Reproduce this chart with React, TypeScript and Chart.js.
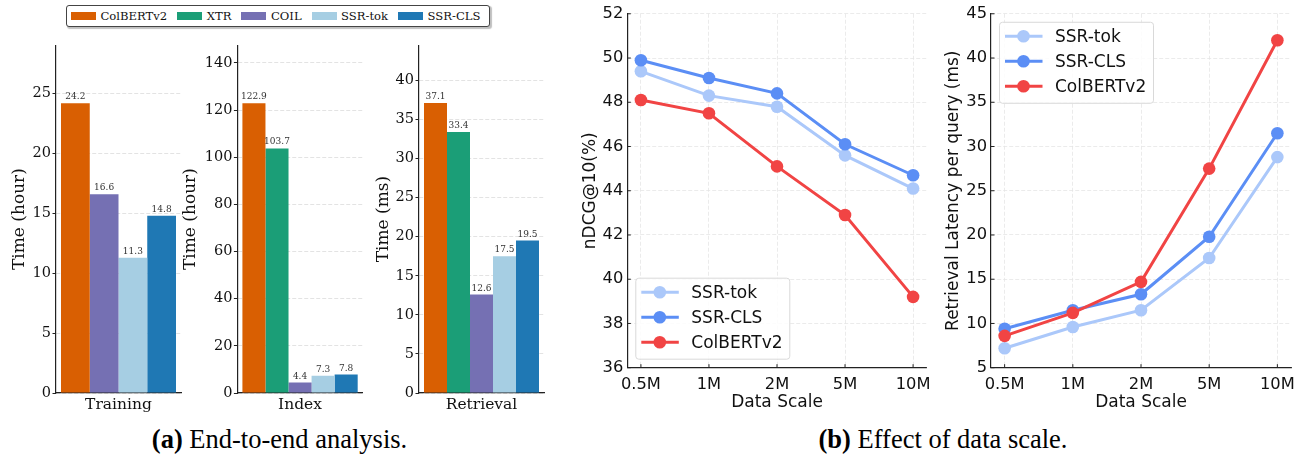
import React, { useEffect, useRef } from "react";
import { Chart, registerables } from "chart.js";

Chart.register(...registerables);

// ---------- data: (a) end-to-end analysis ----------
const barCategories = ["Training", "Index", "Retrieval"];
const barMethods = ["ColBERTv2", "XTR", "COIL", "SSR-tok", "SSR-CLS"];
const colbertTimes: (number | null)[] = [24.2, 122.9, 37.1];
const xtrTimes: (number | null)[] = [null, 103.7, 33.4];
const coilTimes: (number | null)[] = [16.6, 4.4, 12.6];
const ssrTokTimes: (number | null)[] = [11.3, 7.3, 17.5];
const ssrClsTimes: (number | null)[] = [14.8, 7.8, 19.5];
const barYTitles = ["Time (hour)", "Time (hour)", "Time (ms)"];
const trainingTicks = [0, 5, 10, 15, 20, 25];
const indexTicks = [0, 20, 40, 60, 80, 100, 120, 140];
const retrievalTicks = [0, 5, 10, 15, 20, 25, 30, 35, 40];
const barYMax = [29.04, 147.5, 44.5];

// ---------- data: (b) effect of data scale ----------
const scaleLabels = ["0.5M", "1M", "2M", "5M", "10M"];
const lineMethods = ["SSR-tok", "SSR-CLS", "ColBERTv2"];
const ndcgTok = [49.4, 48.3, 47.8, 45.6, 44.1];
const ndcgCls = [49.9, 49.1, 48.4, 46.1, 44.7];
const ndcgColbert = [48.1, 47.5, 45.1, 42.9, 39.2];
const latTok = [7.2, 9.6, 11.5, 17.4, 28.8];
const latCls = [9.4, 11.5, 13.3, 19.8, 31.5];
const latColbert = [8.6, 11.2, 14.7, 27.5, 42.0];
const ndcgTicks = [36, 38, 40, 42, 44, 46, 48, 50, 52];
const latTicks = [5, 10, 15, 20, 25, 30, 35, 40, 45];

// ---------- styles ----------
const barColors = ["#d95f02", "#1b9e77", "#7570b3", "#a6cee3", "#1f78b4"];
const lineColors = ["#abc8fa", "#5b8ef5", "#f14444"];
const SERIF = '"DejaVu Serif"';
const SANS = '"DejaVu Sans"';
const INK = "#111";
const SPINE = "#222";

type Area = { l: number; r: number; t: number; b: number };
function geom(area: Area, cl: number, ct: number, cr: number, cb: number, xH: number) {
  return {
    box: { left: cl, top: ct, width: cr - cl, height: cb - ct },
    yW: area.l - cl,
    xH,
    padding: { left: 0, top: area.t - ct, right: cr - area.r, bottom: cb - area.b - xH },
  };
}

const valueLabels = {
  id: "valueLabels",
  afterDatasetsDraw(chart: any) {
    const ctx = chart.ctx;
    ctx.save();
    ctx.font = `9px ${SERIF}`;
    ctx.fillStyle = "#333";
    ctx.textAlign = "center";
    ctx.textBaseline = "alphabetic";
    chart.data.datasets.forEach((ds: any, di: number) => {
      const meta = chart.getDatasetMeta(di);
      meta.data.forEach((el: any, j: number) => {
        const v = ds.data[j];
        if (v == null) return;
        ctx.fillText(Number(v).toFixed(1), el.x, el.y - 4);
      });
    });
    ctx.restore();
  },
};

const inTicks = {
  id: "inTicks",
  beforeDatasetsDraw(chart: any) {
    const { ctx, chartArea: a, scales } = chart;
    ctx.save();
    ctx.strokeStyle = SPINE;
    ctx.lineWidth = 1;
    ctx.beginPath();
    scales.x.ticks.forEach((t: any) => {
      const x = scales.x.getPixelForValue(t.value);
      ctx.moveTo(x, a.bottom);
      ctx.lineTo(x, a.bottom - 3.5);
    });
    scales.y.ticks.forEach((t: any) => {
      const y = scales.y.getPixelForValue(t.value);
      ctx.moveTo(a.left, y);
      ctx.lineTo(a.left + 3.5, y);
    });
    ctx.stroke();
    ctx.restore();
  },
};

function lineLegend(corner: "tl" | "bl") {
  return {
    id: "lineLegend",
    afterDraw(chart: any) {
      const { ctx, chartArea: a } = chart;
      const w = 154;
      const h = 81;
      const left = a.left + 8.5;
      const top = corner === "tl" ? a.top + 8.5 : a.bottom - 8.5 - h;
      ctx.save();
      ctx.beginPath();
      (ctx as any).roundRect(left, top, w, h, 3);
      ctx.fillStyle = "rgba(255,255,255,0.85)";
      ctx.fill();
      ctx.strokeStyle = "#d9d9d9";
      ctx.lineWidth = 1;
      ctx.stroke();
      ctx.font = `17px ${SANS}`;
      ctx.textBaseline = "middle";
      ctx.textAlign = "left";
      chart.data.datasets.forEach((ds: any, k: number) => {
        const cy = top + 14 + 25 * k;
        ctx.strokeStyle = ds.borderColor;
        ctx.lineWidth = 3;
        ctx.beginPath();
        ctx.moveTo(left + 5.5, cy);
        ctx.lineTo(left + 43, cy);
        ctx.stroke();
        ctx.fillStyle = ds.borderColor;
        ctx.beginPath();
        ctx.arc(left + 24, cy, 6.3, 0, Math.PI * 2);
        ctx.fill();
        ctx.fillStyle = INK;
        ctx.fillText(ds.label, left + 55.5, cy + 1);
      });
      ctx.restore();
    },
  };
}

function barConfig(i: number, g: ReturnType<typeof geom>, titlePad: number) {
  const series = [colbertTimes, xtrTimes, coilTimes, ssrTokTimes, ssrClsTimes];
  const tickSets = [trainingTicks, indexTicks, retrievalTicks];
  const datasets = barMethods
    .map((m, k) => ({
      label: m,
      data: [series[k][i]],
      backgroundColor: barColors[k],
      borderWidth: 0,
      barPercentage: 1,
      categoryPercentage: 0.92,
    }))
    .filter((d) => d.data[0] != null);
  return {
    type: "bar",
    data: { labels: [barCategories[i]], datasets },
    options: {
      responsive: false,
      animation: false,
      events: [],
      layout: { padding: g.padding },
      plugins: { legend: { display: false }, tooltip: { enabled: false } },
      scales: {
        x: {
          type: "category",
          grid: { display: false, drawTicks: false },
          border: { display: true, color: SPINE, width: 1.2 },
          ticks: { color: INK, font: { family: SERIF, size: 15.5 }, padding: 3 },
          afterFit: (s: any) => {
            s.height = g.xH;
          },
        },
        y: {
          type: "linear",
          min: 0,
          max: barYMax[i],
          afterBuildTicks: (s: any) => {
            s.ticks = tickSets[i].map((v) => ({ value: v }));
          },
          grid: {
            color: "#dcdcdc",
            lineWidth: 0.8,
            drawTicks: true,
            tickLength: 3.5,
            tickColor: SPINE,
            tickWidth: 1,
          },
          border: { display: true, color: SPINE, width: 1.2, dash: [4, 2] },
          ticks: { color: INK, font: { family: SERIF, size: 14.5 }, padding: 1.5 },
          title: {
            display: true,
            text: barYTitles[i],
            color: INK,
            font: { family: SERIF, size: 17 },
            padding: { top: titlePad, bottom: 0 },
          },
          afterFit: (s: any) => {
            s.width = g.yW;
          },
        },
      },
    },
    plugins: [valueLabels],
  };
}

function lineConfig(
  series: number[][],
  ticks: number[],
  yTitle: string,
  g: ReturnType<typeof geom>,
  titlePad: number,
  corner: "tl" | "bl"
) {
  const orders = [2, 1, 0];
  const datasets = lineMethods.map((m, k) => ({
    label: m,
    data: series[k].map((v, j) => ({ x: j, y: v })),
    borderColor: lineColors[k],
    backgroundColor: lineColors[k],
    pointBackgroundColor: lineColors[k],
    pointBorderColor: lineColors[k],
    pointBorderWidth: 0,
    pointRadius: 6.3,
    pointHoverRadius: 6.3,
    borderWidth: 3,
    tension: 0,
    order: orders[k],
    clip: false,
  }));
  return {
    type: "line",
    data: { datasets },
    options: {
      responsive: false,
      animation: false,
      events: [],
      layout: { padding: g.padding },
      plugins: { legend: { display: false }, tooltip: { enabled: false } },
      scales: {
        x: {
          type: "linear",
          min: -0.2,
          max: 4.2,
          afterBuildTicks: (s: any) => {
            s.ticks = scaleLabels.map((_, j) => ({ value: j }));
          },
          grid: { color: "#e6e6e6", lineWidth: 0.8, drawTicks: false },
          border: { display: true, color: SPINE, width: 1.2, dash: [4, 2] },
          ticks: {
            color: INK,
            font: { family: SANS, size: 16.3 },
            padding: 7,
            autoSkip: false,
            maxRotation: 0,
            callback: (v: any) => scaleLabels[Math.round(Number(v))],
          },
          title: {
            display: true,
            text: "Data Scale",
            color: INK,
            font: { family: SANS, size: 17 },
            padding: { top: 0, bottom: 4.8 },
          },
          afterFit: (s: any) => {
            s.height = g.xH;
          },
        },
        y: {
          type: "linear",
          min: ticks[0],
          max: ticks[ticks.length - 1],
          afterBuildTicks: (s: any) => {
            s.ticks = ticks.map((v) => ({ value: v }));
          },
          grid: { color: "#e6e6e6", lineWidth: 0.8, drawTicks: false },
          border: { display: true, color: SPINE, width: 1.2, dash: [4, 2] },
          ticks: { color: INK, font: { family: SANS, size: 16.3 }, padding: 4 },
          title: {
            display: true,
            text: yTitle,
            color: INK,
            font: { family: SANS, size: 17 },
            padding: { top: titlePad, bottom: 0 },
          },
          afterFit: (s: any) => {
            s.width = g.yW;
          },
        },
      },
    },
    plugins: [inTicks, lineLegend(corner)],
  };
}

function ChartBox({ box, make }: { box: { left: number; top: number; width: number; height: number }; make: () => any }) {
  const ref = useRef<HTMLCanvasElement>(null);
  useEffect(() => {
    const chart = new Chart(ref.current as HTMLCanvasElement, make());
    return () => chart.destroy();
  }, []);
  return (
    <canvas
      ref={ref}
      width={box.width}
      height={box.height}
      style={{ position: "absolute", left: box.left, top: box.top, width: box.width, height: box.height }}
    />
  );
}

const gTraining = geom({ l: 56, r: 181, t: 43, b: 393 }, 0, 35, 186, 423, 30);
const gIndex = geom({ l: 237.4, r: 362.7, t: 43, b: 393 }, 175, 35, 368, 423, 30);
const gRetrieval = geom({ l: 419, r: 544, t: 43, b: 393 }, 365, 35, 550, 423, 30);
const gNdcg = geom({ l: 627.3, r: 926.7, t: 12.3, b: 367.7 }, 570, 0, 940, 418, 50);
const gLat = geom({ l: 991, r: 1291, t: 12.3, b: 367.7 }, 935, 0, 1304, 418, 50);

const captionStyle: React.CSSProperties = {
  position: "absolute",
  top: 425.8,
  textAlign: "center",
  fontFamily: '"Liberation Serif"',
  fontSize: 26.5,
  lineHeight: "26.5px",
  color: "#000",
  whiteSpace: "nowrap",
};

export default function App() {
  return (
    <div style={{ position: "absolute", left: 0, top: 0, width: 1304, height: 455, background: "#fff", overflow: "hidden" }}>
      <ChartBox box={gTraining.box} make={() => barConfig(0, gTraining, 9.5)} />
      <ChartBox box={gIndex.box} make={() => barConfig(1, gIndex, 5.8)} />
      <ChartBox box={gRetrieval.box} make={() => barConfig(2, gRetrieval, 8.1)} />
      <ChartBox
        box={gNdcg.box}
        make={() => lineConfig([ndcgTok, ndcgCls, ndcgColbert], ndcgTicks, "nDCG@10(%)", gNdcg, 10.5, "bl")}
      />
      <ChartBox
        box={gLat.box}
        make={() =>
          lineConfig([latTok, latCls, latColbert], latTicks, "Retrieval Latency per query (ms)", gLat, 8.8, "tl")
        }
      />
      <div
        style={{
          position: "absolute",
          left: 66,
          top: 5,
          width: 424,
          height: 22,
          boxSizing: "border-box",
          border: "1px solid #444",
          borderRadius: 3,
          boxShadow: "1.5px 1.5px 1px rgba(0,0,0,0.25)",
          background: "#fff",
          display: "flex",
          alignItems: "center",
          paddingLeft: 4,
          fontFamily: SERIF,
          fontSize: 11.6,
          color: INK,
          whiteSpace: "nowrap",
        }}
      >
        {barMethods.map((m, k) => (
          <span key={m} style={{ display: "inline-flex", alignItems: "center", marginRight: 10 }}>
            <span style={{ display: "inline-block", width: 25, height: 8, background: barColors[k], marginRight: 4.5 }} />
            <span>{m}</span>
          </span>
        ))}
      </div>
      <div style={{ ...captionStyle, left: 0, width: 559 }}>
        <b>(a)</b> End-to-end analysis.
      </div>
      <div style={{ ...captionStyle, left: 643, width: 600 }}>
        <b>(b)</b> Effect of data scale.
      </div>
    </div>
  );
}
